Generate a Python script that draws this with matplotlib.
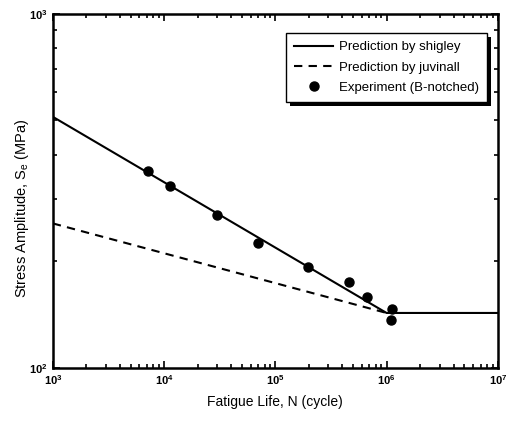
import numpy as np
import matplotlib
matplotlib.use('Agg')
import matplotlib.pyplot as plt
from matplotlib.ticker import NullFormatter
from matplotlib.patches import Rectangle

plt.rcParams['font.family'] = ['Liberation Sans', 'DejaVu Sans']
plt.rcParams['mathtext.fontset'] = 'custom'
plt.rcParams['mathtext.rm'] = 'Liberation Sans'
plt.rcParams['mathtext.bf'] = 'Liberation Sans:bold'

# prediction lines (cycles, MPa)
shigley_n = [1e3, 1e6, 1e7]
shigley_s = [512, 143, 143]
juvinall_n = [1e3, 1e6]
juvinall_s = [256, 143]

# experiment points (B-notched)
exp_n = [7.1e3, 1.14e4, 3.02e4, 7.0e4, 1.97e5, 4.6e5, 6.7e5, 1.13e6, 1.09e6]
exp_s = [361, 327, 270, 226, 193, 175, 159, 147, 137]

x_ticks = [1e3, 1e4, 1e5, 1e6, 1e7]
x_ticklabels = [r'$\mathbf{10^{3}}$', r'$\mathbf{10^{4}}$', r'$\mathbf{10^{5}}$',
                r'$\mathbf{10^{6}}$', r'$\mathbf{10^{7}}$']
y_ticks = [1e2, 1e3]
y_ticklabels = [r'$\mathbf{10^{2}}$', r'$\mathbf{10^{3}}$']

fig = plt.figure(figsize=(5.18, 4.21), dpi=100)
ax = fig.add_axes([0.102, 0.126, 0.859, 0.841])

ax.plot(shigley_n, shigley_s, color='black', linewidth=1.5, label='Prediction by shigley')
ax.plot(juvinall_n, juvinall_s, color='black', linewidth=1.5, linestyle=(0, (4, 3)),
        label='Prediction by juvinall')
ax.plot(exp_n, exp_s, 'o', color='black', markersize=6.5, label='Experiment (B-notched)')

ax.set_xscale('log')
ax.set_yscale('log')
ax.set_xlim(1e3, 1e7)
ax.set_ylim(1e2, 1e3)

ax.set_xticks(x_ticks)
ax.set_xticklabels(x_ticklabels, fontsize=8)
ax.set_yticks(y_ticks)
ax.set_yticklabels(y_ticklabels, fontsize=8)
ax.xaxis.set_minor_formatter(NullFormatter())
ax.yaxis.set_minor_formatter(NullFormatter())
ax.tick_params(which='both', direction='in', top=True, right=True, width=1.2)
ax.tick_params(which='major', length=5)
ax.tick_params(which='minor', length=3)
for sp in ax.spines.values():
    sp.set_linewidth(1.8)

ax.set_xlabel('Fatigue Life, N (cycle)', fontsize=10, labelpad=6)
ax.set_ylabel('Stress Amplitude, S$_{\\rm e}$ (MPa)', fontsize=10.5)
ax.yaxis.set_label_coords(-0.05, 0.45)

leg = ax.legend(loc='upper right', bbox_to_anchor=(0.975, 0.946), borderaxespad=0,
                fancybox=False, edgecolor='black', framealpha=1, fontsize=9.5,
                handlelength=3.0, handletextpad=0.4, borderpad=0.6, labelspacing=0.62)
leg.get_frame().set_linewidth(1.0)

# thick black drop shadow like the original
fig.canvas.draw()
bb = leg.get_window_extent()
shadow = Rectangle((bb.x0 + 4, bb.y0 - 4), bb.width, bb.height, transform=None,
                   facecolor='black', edgecolor='none', zorder=4.5)
ax.add_artist(shadow)

fig.savefig('out.png', dpi=100)
